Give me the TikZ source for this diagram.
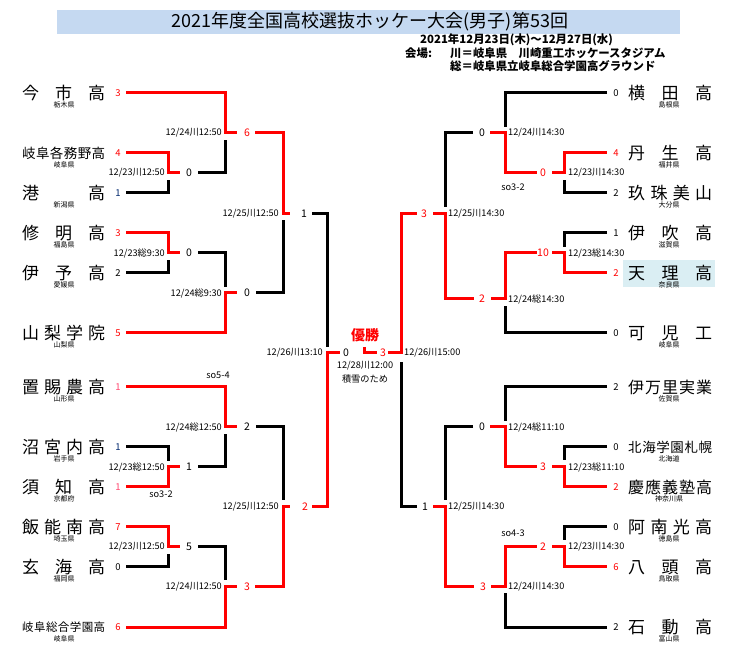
\documentclass[tikz,border=0pt]{standalone}
\usepackage{fontspec}
\setmainfont{Noto Sans CJK JP}
\definecolor{barc}{RGB}{197,217,241}
\definecolor{hlc}{RGB}{218,238,243}
\definecolor{pkc}{RGB}{255,70,110}
\definecolor{nvc}{RGB}{0,40,110}
\tikzset{
 rl/.style={draw=red, line width=3pt},
 bl/.style={draw=black, line width=3pt},
 sc/.style={inner sep=0, font=\fontsize{9.5}{10}\selectfont},
 js/.style={inner sep=0, font=\fontsize{10.5}{11}\selectfont},
 dl/.style={inner sep=0, anchor=west, font=\fontsize{9.2}{10}\selectfont},
 dr/.style={inner sep=0, anchor=east, font=\fontsize{9.2}{10}\selectfont},
 dc/.style={inner sep=0, font=\fontsize{9.2}{10}\selectfont},
 pref/.style={inner sep=0, font=\fontsize{7}{7.5}\selectfont},
 subt/.style={inner sep=0, anchor=west, font=\fontsize{11.4}{12}\selectfont\bfseries},
}
\newcommand\LT[7]{%
 \node[anchor=west, inner sep=0, font=\fontsize{#3}{#3}\selectfont] (n#1) at (22,#2) {\hbox to 83pt{#4}};
 \node[pref] (p#1) at (64,#2+12) {#5};
 \node[sc, text=#7] (s#1) at (118,#2) {#6};}
\newcommand\RT[7]{%
 \node[anchor=west, inner sep=0, font=\fontsize{#3}{#3}\selectfont] (n#1) at (628,#2) {\hbox to 84pt{#4}};
 \node[pref] (p#1) at (669,#2+12) {#5};
 \node[sc, text=#7] (s#1) at (616,#2) {#6};}
\begin{document}
\begin{tikzpicture}[x=1pt,y=-1pt, line join=miter]
\useasboundingbox[fill=white] (0,0) rectangle (740,660);
\fill[barc] (57,10) rectangle (680,34);
\node[inner sep=0, font=\fontsize{18}{19}\selectfont] (title) at (370,22) {2021年度全国高校選抜ホッケー大会(男子)第53回};
\node[subt] (date) at (420,40) {2021年12月23日(木)～12月27日(水)};
\node[subt] (vl) at (405,53) {会場:};
\node[subt] (v1) at (450,53) {川＝岐阜県　川崎重工ホッケースタジアム};
\node[subt] (v2) at (450,66) {総＝岐阜県立岐阜総合学園高グラウンド};
\fill[hlc] (623,260) rectangle (715,287);
% left teams
\LT{L1}{93}{17}{今\hfill 市\hfill 高}{栃木県}{3}{red}
\LT{L2}{153}{13.5}{岐\hfill 阜\hfill 各\hfill 務\hfill 野\hfill 高}{岐阜県}{4}{red}
\LT{L3}{193}{17}{港\hfill 高}{新潟県}{1}{nvc}
\LT{L4}{233}{17}{修\hfill 明\hfill 高}{福島県}{3}{red}
\LT{L5}{273}{17}{伊\hfill 予\hfill 高}{愛媛県}{2}{black}
\LT{L6}{333}{17}{山\hfill 梨\hfill 学\hfill 院}{山梨県}{5}{red}
\LT{L7}{387}{17}{置\hfill 賜\hfill 農\hfill 高}{山形県}{1}{pkc}
\LT{L8}{447}{17}{沼\hfill 宮\hfill 内\hfill 高}{岩手県}{1}{nvc}
\LT{L9}{487}{17}{須\hfill 知\hfill 高}{京都府}{1}{pkc}
\LT{L10}{527}{17}{飯\hfill 能\hfill 南\hfill 高}{埼玉県}{7}{red}
\LT{L11}{567}{17}{玄\hfill 海\hfill 高}{福岡県}{0}{black}
\LT{L12}{627}{11.5}{岐\hfill 阜\hfill 総\hfill 合\hfill 学\hfill 園\hfill 高}{岐阜県}{6}{red}
% right teams
\RT{R1}{93}{17}{横\hfill 田\hfill 高}{島根県}{0}{black}
\RT{R2}{153}{17}{丹\hfill 生\hfill 高}{福井県}{4}{red}
\RT{R3}{193}{17}{玖\hfill 珠\hfill 美\hfill 山}{大分県}{2}{black}
\RT{R4}{233}{17}{伊\hfill 吹\hfill 高}{滋賀県}{1}{black}
\RT{R5}{273}{17}{天\hfill 理\hfill 高}{奈良県}{2}{red}
\RT{R6}{333}{17}{可\hfill 児\hfill 工}{岐阜県}{0}{black}
\RT{R7}{387}{16}{伊\hfill 万\hfill 里\hfill 実\hfill 業}{佐賀県}{2}{black}
\RT{R8}{447}{13.5}{北\hfill 海\hfill 学\hfill 園\hfill 札\hfill 幌}{北海道}{0}{black}
\RT{R9}{487}{16}{慶\hfill 應\hfill 義\hfill 塾\hfill 高}{神奈川県}{2}{red}
\RT{R10}{527}{17}{阿\hfill 南\hfill 光\hfill 高}{徳島県}{0}{black}
\RT{R11}{567}{17}{八\hfill 頭\hfill 高}{鳥取県}{6}{red}
\RT{R12}{627}{17}{石\hfill 動\hfill 高}{富山県}{2}{black}
% left lines
\draw[rl] (126,93) -| (225,133) -- (237,133);
\draw[rl] (126,153) -| (168,173) -- (180,173);
\draw[bl] (126,193) -| (168,180);
\draw[bl] (198,173) -| (225,140);
\draw[rl] (255,133) -| (283,214) -- (290,214);
\draw[bl] (312,214) -| (327,347);
\draw[rl] (126,233) -| (168,253) -- (180,253);
\draw[bl] (126,273) -| (168,260);
\draw[bl] (198,253) -| (225,287);
\draw[rl] (126,333) -| (225,293) -- (237,293);
\draw[bl] (256,293) -| (283,220);
\draw[rl] (126,387) -| (225,427) -- (237,427);
\draw[bl] (126,447) -| (168,461);
\draw[rl] (126,487) -| (168,467) -- (180,467);
\draw[bl] (198,467) -| (225,434);
\draw[bl] (256,427) -| (283,500);
\draw[rl] (126,527) -| (168,547) -- (180,547);
\draw[bl] (126,567) -| (168,554);
\draw[bl] (198,547) -| (225,580);
\draw[rl] (126,627) -| (225,587) -- (237,587);
\draw[rl] (255,587) -| (283,507) -- (290,507);
\draw[rl] (312,507) -| (327,353) -- (340,353);
% centre
\draw[rl] (364,347) |- (377,353);
\draw[rl] (388,353) -| (401,214) -- (417,214);
\draw[bl] (417,507) -| (401,362);
% right lines
\draw[rl] (433,214) -| (445,299) -- (474,299);
\draw[bl] (473,133) -| (445,207);
\draw[bl] (607,93) -| (505,127);
\draw[rl] (490,133) -| (505,173) -- (537,173);
\draw[rl] (552,173) -| (564,153) -- (607,153);
\draw[bl] (607,193) -| (564,180);
\draw[rl] (491,299) -| (505,253) -- (537,253);
\draw[bl] (607,333) -| (505,306);
\draw[rl] (552,253) -| (564,273) -- (607,273);
\draw[bl] (607,233) -| (564,247);
\draw[bl] (473,427) -| (445,500);
\draw[rl] (433,507) -| (445,587) -- (474,587);
\draw[bl] (607,387) -| (505,421);
\draw[rl] (490,427) -| (505,467) -- (537,467);
\draw[bl] (607,447) -| (564,460);
\draw[rl] (552,467) -| (564,487) -- (607,487);
\draw[rl] (491,587) -| (505,547) -- (537,547);
\draw[bl] (607,627) -| (505,593);
\draw[bl] (607,527) -| (564,540);
\draw[rl] (552,547) -| (564,567) -- (607,567);
% junction scores left
\node[js] (j1) at (189,173) {0};
\node[js, text=red] (j2) at (247,133) {6};
\node[js] (j3) at (189,253) {0};
\node[js] (j4) at (247,293) {0};
\node[js] (j5) at (304,214) {1};
\node[js] (j6) at (189,467) {1};
\node[js] (j7) at (247,427) {2};
\node[js] (j8) at (189,547) {5};
\node[js, text=red] (j9) at (247,587) {3};
\node[js, text=red] (j10) at (305,507) {2};
\node[js] (j11) at (346,353) {0};
% junction scores right
\node[js, text=red] (k1) at (543,173) {0};
\node[js] (k2) at (482,133) {0};
\node[js, text=red] (k3) at (543,253) {10};
\node[js, text=red] (k4) at (482,299) {2};
\node[js, text=red] (k5) at (424,214) {3};
\node[js, text=red] (k6) at (383,353) {3};
\node[js, text=red] (k7) at (543,467) {3};
\node[js] (k8) at (482,427) {0};
\node[js, text=red] (k9) at (543,547) {2};
\node[js, text=red] (k10) at (483,587) {3};
\node[js] (k11) at (425,507) {1};
% dates left
\node[dr] (d1) at (165,173) {12/23川12:50};
\node[dr] (d2) at (222,133) {12/24川12:50};
\node[dr] (d3) at (165,253) {12/23総9:30};
\node[dr] (d4) at (222,293) {12/24総9:30};
\node[dr] (d5) at (279,214) {12/25川12:50};
\node[dr] (d6) at (165,467) {12/23総12:50};
\node[dr] (d7) at (222,427) {12/24総12:50};
\node[dr] (d8) at (165,547) {12/23川12:50};
\node[dr] (d9) at (222,587) {12/24川12:50};
\node[dr] (d10) at (279,507) {12/25川12:50};
\node[dr] (d11) at (323,353) {12/26川13:10};
% dates right
\node[dl] (e1) at (568,173) {12/23川14:30};
\node[dl] (e2) at (508,133) {12/24川14:30};
\node[dl] (e3) at (568,253) {12/23総14:30};
\node[dl] (e4) at (508,299) {12/24総14:30};
\node[dl] (e5) at (448,214) {12/25川14:30};
\node[dl] (e6) at (404,353) {12/26川15:00};
\node[dl] (e7) at (568,467) {12/23総11:10};
\node[dl] (e8) at (508,427) {12/24総11:10};
\node[dl] (e9) at (448,507) {12/25川14:30};
\node[dl] (e10) at (568,547) {12/23川14:30};
\node[dl] (e11) at (508,587) {12/24川14:30};
% shoot-outs
\node[dc] (so1) at (218,375) {so5-4};
\node[dc] (so2) at (161,494) {so3-2};
\node[dc] (so3) at (513,187) {so3-2};
\node[dc] (so4) at (513,533) {so4-3};
% final
\node[inner sep=0, text=red, font=\fontsize{14}{15}\selectfont\bfseries] (champ) at (365,335) {優勝};
\node[dc] (fd) at (365,366) {12/28川12:00};
\node[dc] (fr) at (365,379) {積雪のため};
\end{tikzpicture}
\end{document}
